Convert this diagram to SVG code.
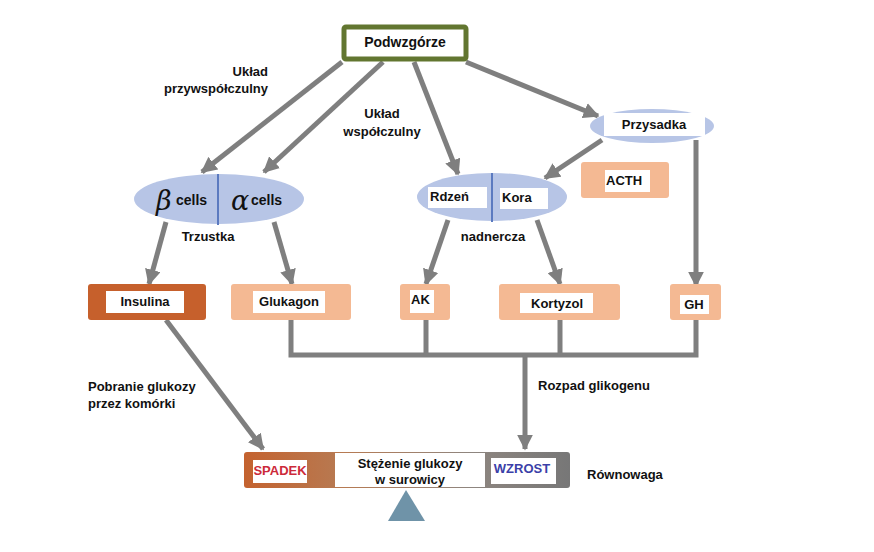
<svg xmlns="http://www.w3.org/2000/svg" width="874" height="552" viewBox="0 0 874 552">
<defs>
<marker id="ah" viewBox="0 0 10 10" refX="9" refY="5" markerWidth="3.2" markerHeight="3.2" orient="auto" markerUnits="strokeWidth">
<path d="M0,0 L10,5 L0,10 z" fill="#7f7f7f"/>
</marker>
<linearGradient id="bar" x1="0" x2="1" y1="0" y2="0">
<stop offset="0" stop-color="#c4622f"/>
<stop offset="0.3" stop-color="#b77a52"/>
<stop offset="0.7" stop-color="#8e8680"/>
<stop offset="1" stop-color="#777777"/>
</linearGradient>
<style>
text{font-family:"Liberation Sans",Arial,sans-serif;font-weight:bold;font-size:13px;fill:#111}
.c{stroke:#7f7f7f;stroke-width:5;fill:none}
.a{marker-end:url(#ah)}
.ell{fill:#b7c5e6}
.lt{fill:#f4b993}
.wb{fill:#fff}
.mid{text-anchor:middle}
</style>
</defs>
<rect width="874" height="552" fill="#fff"/>
<g id="connectors">
<line class="c a" x1="342" y1="62" x2="202" y2="172"/>
<line class="c a" x1="383" y1="62" x2="264" y2="172"/>
<line class="c a" x1="414" y1="62" x2="458" y2="174"/>
<line class="c a" x1="466" y1="62" x2="598" y2="116"/>
<line class="c a" x1="602" y1="140" x2="545" y2="178"/>
<polyline class="c a" points="696,140 696,286"/>
<line class="c a" x1="166" y1="222" x2="149" y2="284"/>
<line class="c a" x1="274" y1="222" x2="292" y2="284"/>
<line class="c a" x1="448" y1="220" x2="426" y2="284"/>
<line class="c a" x1="537" y1="220" x2="560" y2="284"/>
<polyline class="c" points="291,320 291,355 696,355 696,320"/>
<line class="c" x1="426" y1="320" x2="426" y2="355"/>
<line class="c" x1="560" y1="320" x2="560" y2="355"/>
<line class="c a" x1="525" y1="355" x2="525" y2="449"/>
<line class="c a" x1="166" y1="320" x2="263" y2="449"/>
</g>
<g id="podwzgorze">
<rect x="344" y="27" width="122" height="32" rx="2" fill="#fff" stroke="#627630" stroke-width="5"/>
<text x="405" y="47" class="mid" style="font-size:14px">Podwzgórze</text>
</g>
<g id="labels">
<text x="268" y="76" text-anchor="end">Układ</text>
<text x="268" y="93" text-anchor="end">przywspółczulny</text>
<text x="382" y="118" class="mid">Układ</text>
<text x="382" y="136" class="mid">współczulny</text>
<text x="208" y="241" class="mid">Trzustka</text>
<text x="493" y="241" class="mid">nadnercza</text>
<text x="88" y="391">Pobranie glukozy</text>
<text x="88" y="408">przez komórki</text>
<text x="538" y="390">Rozpad glikogenu</text>
<text x="587" y="479">Równowaga</text>
</g>
<g id="trzustka">
<ellipse class="ell" cx="219" cy="199" rx="85" ry="25"/>
<line x1="218" y1="174" x2="218" y2="225" stroke="#5b7ac0" stroke-width="2"/>
<text x="156" y="210" style="font-family:'DejaVu Serif',serif;font-style:italic;font-size:27px;font-weight:normal">β</text>
<text x="176" y="205" style="font-size:14px">cells</text>
<text x="231" y="210" style="font-family:'DejaVu Serif',serif;font-style:italic;font-size:27px;font-weight:normal">α</text>
<text x="251" y="205" style="font-size:14px">cells</text>
</g>
<g id="nadnercza">
<ellipse class="ell" cx="492" cy="197" rx="75" ry="24"/>
<line x1="492" y1="173" x2="492" y2="222" stroke="#5b7ac0" stroke-width="2"/>
<rect class="wb" x="428" y="187" width="59" height="21"/>
<text x="430" y="201">Rdzeń</text>
<rect class="wb" x="500" y="188" width="48" height="21"/>
<text x="502" y="202">Kora</text>
</g>
<g id="przysadka">
<ellipse class="ell" cx="652" cy="126" rx="62" ry="17"/>
<rect class="wb" x="604" y="113" width="101" height="23"/>
<text x="654" y="129" class="mid">Przysadka</text>
</g>
<g id="acth">
<rect class="lt" x="581" y="162" width="88" height="36" rx="3"/>
<rect class="wb" x="605" y="170" width="45" height="22"/>
<text x="606" y="185">ACTH</text>
</g>
<g id="insulina">
<rect x="88" y="284" width="118" height="36" rx="3" fill="#c6602c"/>
<rect class="wb" x="106" y="291" width="78" height="22"/>
<text x="145" y="306" class="mid">Insulina</text>
</g>
<g id="glukagon">
<rect class="lt" x="231" y="284" width="120" height="36" rx="3"/>
<rect class="wb" x="253" y="291" width="72" height="22"/>
<text x="289" y="306" class="mid">Glukagon</text>
</g>
<g id="ak">
<rect class="lt" x="400" y="284" width="50" height="36" rx="3"/>
<rect class="wb" x="410" y="290" width="24" height="23"/>
<text x="411" y="304">AK</text>
</g>
<g id="kortyzol">
<rect class="lt" x="499" y="284" width="121" height="36" rx="3"/>
<rect class="wb" x="520" y="293" width="73" height="20"/>
<text x="557" y="308" class="mid">Kortyzol</text>
</g>
<g id="gh">
<rect class="lt" x="670" y="284" width="51" height="36" rx="3"/>
<rect class="wb" x="680" y="295" width="29" height="19"/>
<text x="694" y="309" class="mid">GH</text>
</g>
<g id="stezenie">
<rect x="244" y="452" width="326" height="36" rx="3" fill="url(#bar)"/>
<rect class="wb" x="335" y="453" width="150" height="34"/>
<text x="410" y="468" class="mid">Stężenie glukozy</text>
<text x="410" y="484" class="mid">w surowicy</text>
<rect class="wb" x="253" y="460" width="54" height="23"/>
<text x="280" y="475" class="mid" style="fill:#cc2a3a;font-size:13px">SPADEK</text>
<rect class="wb" x="491" y="458" width="65" height="26"/>
<text x="522" y="473" class="mid" style="fill:#3b3fa8;font-size:13px">WZROST</text>
</g>
<g id="waga">
<polygon points="406,490 388,521 425,521" fill="#6f93a8"/>
</g>
</svg>
